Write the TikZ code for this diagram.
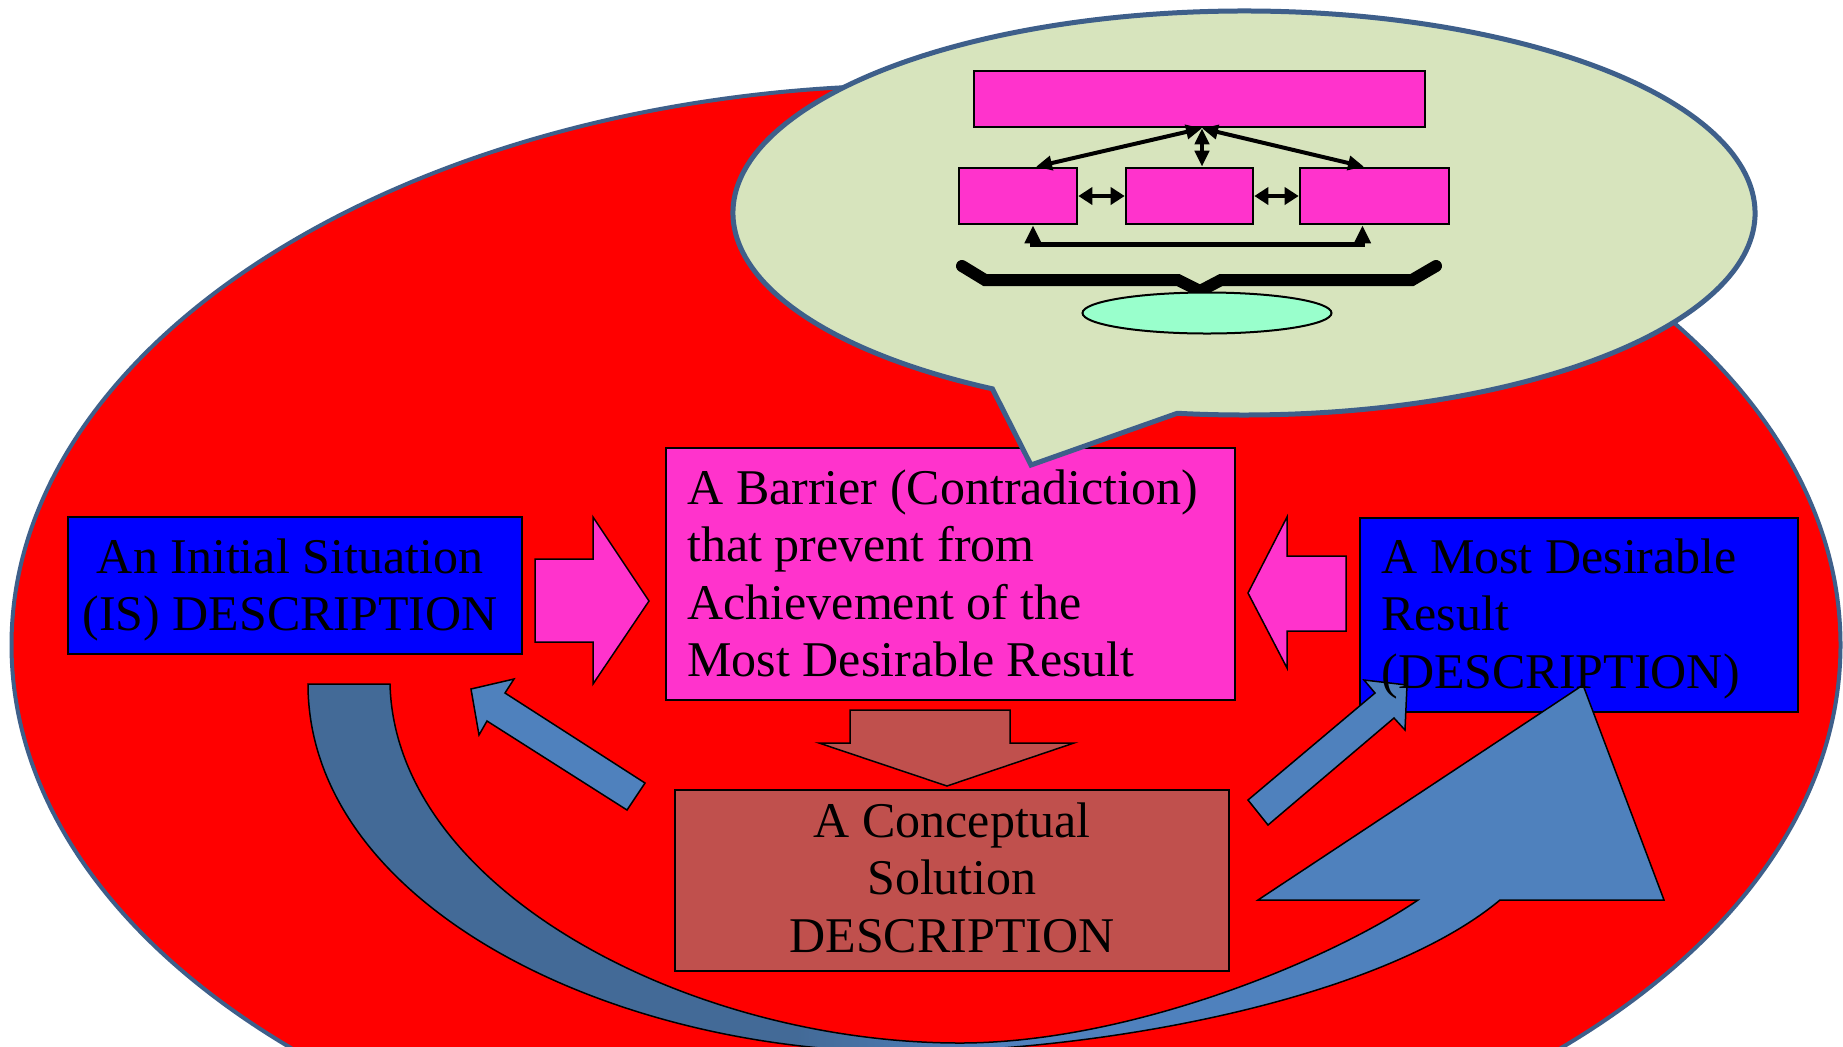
\documentclass[tikz,border=0pt]{standalone}
\usepackage{fontspec}
\setmainfont{Liberation Serif}
\usetikzlibrary{arrows.meta,calc}

\definecolor{redfield}{HTML}{FF0000}
\definecolor{pinkbox}{HTML}{FF33CC}
\definecolor{bluebox}{HTML}{0000FF}
\definecolor{brickbox}{HTML}{C0504D}
\definecolor{steel}{HTML}{4F81BD}
\definecolor{steeldark}{HTML}{436A97}
\definecolor{rimblue}{HTML}{3E5F8A}
\definecolor{bubble}{HTML}{D7E4BD}
\definecolor{mint}{HTML}{99FFCC}

% dark on the left run of the band, light towards the head
\pgfdeclarehorizontalshading{bandshade}{100bp}{color(0bp)=(steeldark); color(43bp)=(steeldark); color(50bp)=(steel); color(100bp)=(steel)}

\newcommand\textrows[2]{\begin{tabular}[t]{@{}#1@{}}#2\end{tabular}}

\begin{document}
\begin{tikzpicture}[x=0.5pt,y=-0.5pt,
  txt/.style={font=\fontsize{25}{28.75}\selectfont, inner sep=0pt, text=black},
  mainbox/.style={draw=black, line width=1pt, inner sep=0pt},
  minibox/.style={draw=black, line width=1.3pt, fill=pinkbox, inner sep=0pt, minimum height=28pt},
  blockarrow/.style={draw=black, line width=0.75pt},
  duo/.style={line width=2pt, {Triangle[length=8pt,width=7pt]}-{Triangle[length=8pt,width=7pt]}},
  side/.style={line width=2pt, {Triangle[length=7pt,width=8.5pt]}-{Triangle[length=7pt,width=8.5pt]}},
  loopback/.style={line width=2.8pt, {Triangle[length=9pt,width=8pt]}-{Triangle[length=9pt,width=8pt]}}
]
\useasboundingbox (0,0) rectangle (1843,1046);
\fill[white] (0,0) rectangle (1843,1046);
\clip (0,0) rectangle (1843,1046);

% the large red field
\draw[rimblue, line width=2pt, fill=redfield] (926,645) ellipse [x radius=914.5, y radius=560];

% the four description boxes
\node[mainbox, fill=pinkbox, minimum width=284.5pt, minimum height=126pt] (bar) at (950.5,574) {};
\node[mainbox, fill=bluebox, minimum width=227pt, minimum height=68.5pt] (is) at (295,585.5) {};
\node[mainbox, fill=bluebox, minimum width=219pt, minimum height=97pt] (mdr) at (1579,615) {};
\node[mainbox, fill=brickbox, minimum width=277pt, minimum height=90.5pt] (cs) at (952,880.5) {};

\node[txt, anchor=base] (istext) at (290,573) {\textrows{c}{An Initial Situation\\(IS) DESCRIPTION}};
\node[txt, anchor=base west] (bartext) at (687,504) {\textrows{l}{A Barrier (Contradiction)\\that prevent from\\Achievement of the\\Most Desirable Result}};
\node[txt, anchor=base] (cstext) at (952,837) {\textrows{c}{A Conceptual\\Solution\\DESCRIPTION}};

% block arrows towards the barrier and down to the solution
\draw[blockarrow, fill=pinkbox] (535,559) -- (593,559) -- (593,517) -- (649,601) -- (593,684) -- (593,642) -- (535,642) -- cycle;
\draw[blockarrow, fill=pinkbox] (1346,556) -- (1287,556) -- (1287,517) -- (1248,593) -- (1287,668) -- (1287,631) -- (1346,631) -- cycle;
\draw[blockarrow, fill=brickbox] (850,710) -- (1010,710) -- (1010,743) -- (1074,743) -- (947,786) -- (819,743) -- (850,743) -- cycle;

% straight blue arrows out of the solution
\draw[blockarrow, fill=steel] (645,783) -- (505,693) -- (514,679) -- (471,689) -- (479,735) -- (487,721) -- (627,810) -- cycle;
\draw[blockarrow, fill=steel] (1248,800) -- (1375,693) -- (1364,680) -- (1407,685) -- (1405,730) -- (1394,718) -- (1268,825) -- cycle;

% curved arrow from the initial situation round to the result
\draw[blockarrow, shading=bandshade]
  (308,684) .. controls (308,900) and (600,1050) .. (900,1052)
  .. controls (1100,1052) and (1380,1000) .. (1500,900)
  -- (1664,900) -- (1583,685) -- (1258,900) -- (1418,900)
  .. controls (1330,960) and (1130,1043) .. (960,1043)
  .. controls (690,1043) and (395,890) .. (390,684) -- cycle;

\node[txt, anchor=base west] (mdrtext) at (1381,573) {\textrows{l}{A Most Desirable\\Result\\(DESCRIPTION)}};

% speech bubble with the small structure diagram
\draw[rimblue, line width=2.5pt, fill=bubble] (1244,213) ++(119.5:511 and 202)
  arc[start angle=119.5, end angle=457.5, x radius=511, y radius=202] -- (1031,465) -- cycle;

\node[minibox, minimum width=225.5pt] (top) at (1199.5,99) {};
\node[minibox, minimum width=59pt] (sl) at (1018,196) {};
\node[minibox, minimum width=63.5pt] (sm) at (1189.5,196) {};
\node[minibox, minimum width=74.5pt] (sr) at (1374.5,196) {};

\coordinate (hub) at ($(top.south)+(2.5,0)$);
\draw[duo] (hub) -- ($(sl.north)+(18,0)$);
\draw[duo] (hub) -- ($(sm.north)+(12.5,0)$);
\draw[duo] (hub) -- ($(sr.north)+(-10.5,0)$);
\draw[side] (sl.east) -- (sm.west);
\draw[side] (sm.east) -- (sr.west);
\draw[loopback] ($(sl.south)+(15,0)$) |- ($(sr.south)+(-12,19)$) -- ($(sr.south)+(-12,0)$);

\draw[line width=6pt, line cap=round, line join=miter]
  (962,266) -- (985,280) -- (1178,280) -- (1200,291) -- (1221,280) -- (1412,280) -- (1436,266);
\draw[black, line width=1pt, fill=mint] (1207,313) ellipse [x radius=124.5, y radius=20.5];
\end{tikzpicture}
\end{document}
